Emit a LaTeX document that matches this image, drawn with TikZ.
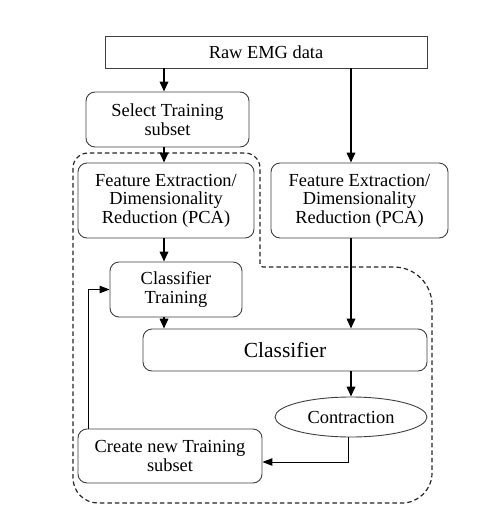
\documentclass[tikz,border=0pt]{standalone}
\usepackage{fontspec}
\setmainfont{Liberation Serif}
\usetikzlibrary{arrows.meta,shapes.geometric}
\begin{document}
\begin{tikzpicture}[x=1pt,y=-1pt,
  box/.style={draw=black!75,line width=0.9pt,rounded corners=9pt,fill=white,align=center,inner sep=0pt,
    font=\fontsize{18.4}{18.5}\selectfont},
  arr/.style={line width=2pt,-{Triangle[length=10pt,width=8.5pt]}},
  fb/.style={line width=1pt,-{Triangle[length=10pt,width=7.5pt]}},
  dsh/.style={line width=1.2pt,dash pattern=on 4.5pt off 3pt,black!85}]
\useasboundingbox (0,0) rectangle (495,517);
\fill[white] (0,0) rectangle (495,517);
% dashed boundary
\draw[dsh] (73,300) -- (73,168) .. controls (73,159.75) and (79.75,153) .. (88,153)
  -- (245,153) .. controls (253.25,153) and (260,159.75) .. (260,168)
  -- (260,264) .. controls (260,265.65) and (261.35,267) .. (263,267)
  -- (394,267) .. controls (414.9,267) and (432,284.1) .. (432,305)
  -- (432,473) .. controls (432,489.5) and (418.5,503) .. (402,503)
  -- (98,503) .. controls (84.25,503) and (73,491.75) .. (73,478) -- cycle;
% nodes
\node[box,rounded corners=0pt,minimum width=322pt,minimum height=32pt] (raw) at (266,52) {Raw EMG data};
\node[box,minimum width=163pt,minimum height=55pt] (sel) at (167.5,119.5) {Select Training\\subset};
\node[box,minimum width=176pt,minimum height=75pt] (fel) at (166,200.5) {Feature Extraction/\\Dimensionality\\Reduction (PCA)};
\node[box,minimum width=177pt,minimum height=75pt] (fer) at (359.5,200.5) {Feature Extraction/\\Dimensionality\\Reduction (PCA)};
\node[box,minimum width=132pt,minimum height=55pt] (ct) at (176,289.5) {Classifier\\Training};
\node[box,minimum width=284pt,minimum height=42pt,font=\fontsize{21.5}{22}\selectfont] (cls) at (285,350) {Classifier};
\node[box,ellipse,rounded corners=0pt,minimum width=152pt,minimum height=40pt] (con) at (351,417) {Contraction};
\node[box,minimum width=184pt,minimum height=54pt] (cre) at (170,456) {Create new Training\\subset};
% columns
\coordinate (cl) at (164,0);
\coordinate (cr) at (351,0);
\coordinate (cd) at (348,0);
\coordinate (cf) at (88,0);
\coordinate (ly) at (0,462);
% arrows
\draw[arr] (raw.south -| cl) -- (sel.north -| cl);
\draw[arr] (sel.south -| cl) -- (fel.north -| cl);
\draw[arr] (fel.south -| cl) -- (ct.north -| cl);
\draw[arr] (ct.south -| cl) -- (cls.north -| cl);
\draw[arr] (raw.south -| cr) -- (fer.north -| cr);
\draw[arr] (fer.south -| cr) -- (cls.north -| cr);
\draw[arr] (cls.south -| cr) -- (con.north);
\draw[fb] (con.south -| cd) |- (cre.east |- ly);
\draw[fb] (cre.north -| cf) |- (ct.west);
\end{tikzpicture}
\end{document}
